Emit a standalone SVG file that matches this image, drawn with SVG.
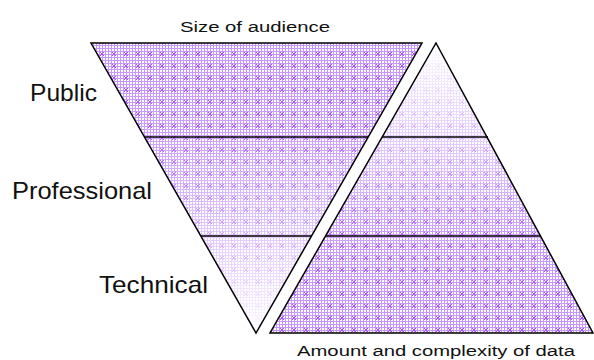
<svg xmlns="http://www.w3.org/2000/svg" width="594" height="360" viewBox="0 0 594 360">
<style>
.lbl{font-family:"Liberation Sans",Arial,sans-serif;fill:#111;}
.big{font-size:24px;}
.small{font-size:14px;}
.edge{fill:none;stroke:#000;stroke-width:1.5;stroke-linejoin:miter;}
.div{stroke:#000;stroke-width:1.5;}
</style>
<defs>
<pattern id="dots" width="12" height="12" patternUnits="userSpaceOnUse">
<rect width="12" height="12" fill="#fff"/>
<path d="M0 0.5H12M0 3.5H12M0 6.5H12M0 9.5H12M0.5 0V12M3.5 0V12M6.5 0V12M9.5 0V12" stroke="#c794ff" stroke-width="1"/>
<path d="M4 4L8 8M8 4L4 8" stroke="#a352fa" stroke-width="1"/>
</pattern>
<linearGradient id="fadeDown" gradientUnits="userSpaceOnUse" x1="0" y1="43" x2="0" y2="333">
<stop offset="0" stop-color="#fff" stop-opacity="0"/>
<stop offset="0.32" stop-color="#fff" stop-opacity="0.1"/>
<stop offset="0.66" stop-color="#fff" stop-opacity="0.5"/>
<stop offset="1" stop-color="#fff" stop-opacity="0.97"/>
</linearGradient>
<linearGradient id="fadeUp" gradientUnits="userSpaceOnUse" x1="0" y1="333" x2="0" y2="43">
<stop offset="0" stop-color="#fff" stop-opacity="0"/>
<stop offset="0.34" stop-color="#fff" stop-opacity="0.1"/>
<stop offset="0.68" stop-color="#fff" stop-opacity="0.55"/>
<stop offset="1" stop-color="#fff" stop-opacity="0.97"/>
</linearGradient>
</defs>

<g id="audience-triangle">
<polygon points="91,43 422,43 256,333" fill="url(#dots)"/>
<polygon points="91,43 422,43 256,333" fill="url(#fadeDown)"/>
<line class="div" x1="145" y1="137" x2="368" y2="137"/>
<line class="div" x1="201" y1="236" x2="312" y2="236"/>
<polygon class="edge" points="91,43 422,43 256,333"/>
</g>

<g id="data-triangle">
<polygon points="436,43 593,333 270,333" fill="url(#dots)"/>
<polygon points="436,43 593,333 270,333" fill="url(#fadeUp)"/>
<line class="div" x1="382" y1="137" x2="488" y2="137"/>
<line class="div" x1="326" y1="236" x2="541" y2="236"/>
<polygon class="edge" points="436,43 593,333 270,333"/>
</g>

<g id="labels">
<text class="lbl small" x="180" y="32" textLength="150" lengthAdjust="spacingAndGlyphs">Size of audience</text>
<text class="lbl big" x="30" y="101" textLength="67" lengthAdjust="spacingAndGlyphs">Public</text>
<text class="lbl big" x="12" y="199" textLength="140" lengthAdjust="spacingAndGlyphs">Professional</text>
<text class="lbl big" x="99" y="293" textLength="109" lengthAdjust="spacingAndGlyphs">Technical</text>
<text class="lbl small" x="297" y="356" textLength="278" lengthAdjust="spacingAndGlyphs">Amount and complexity of data</text>
</g>
</svg>
